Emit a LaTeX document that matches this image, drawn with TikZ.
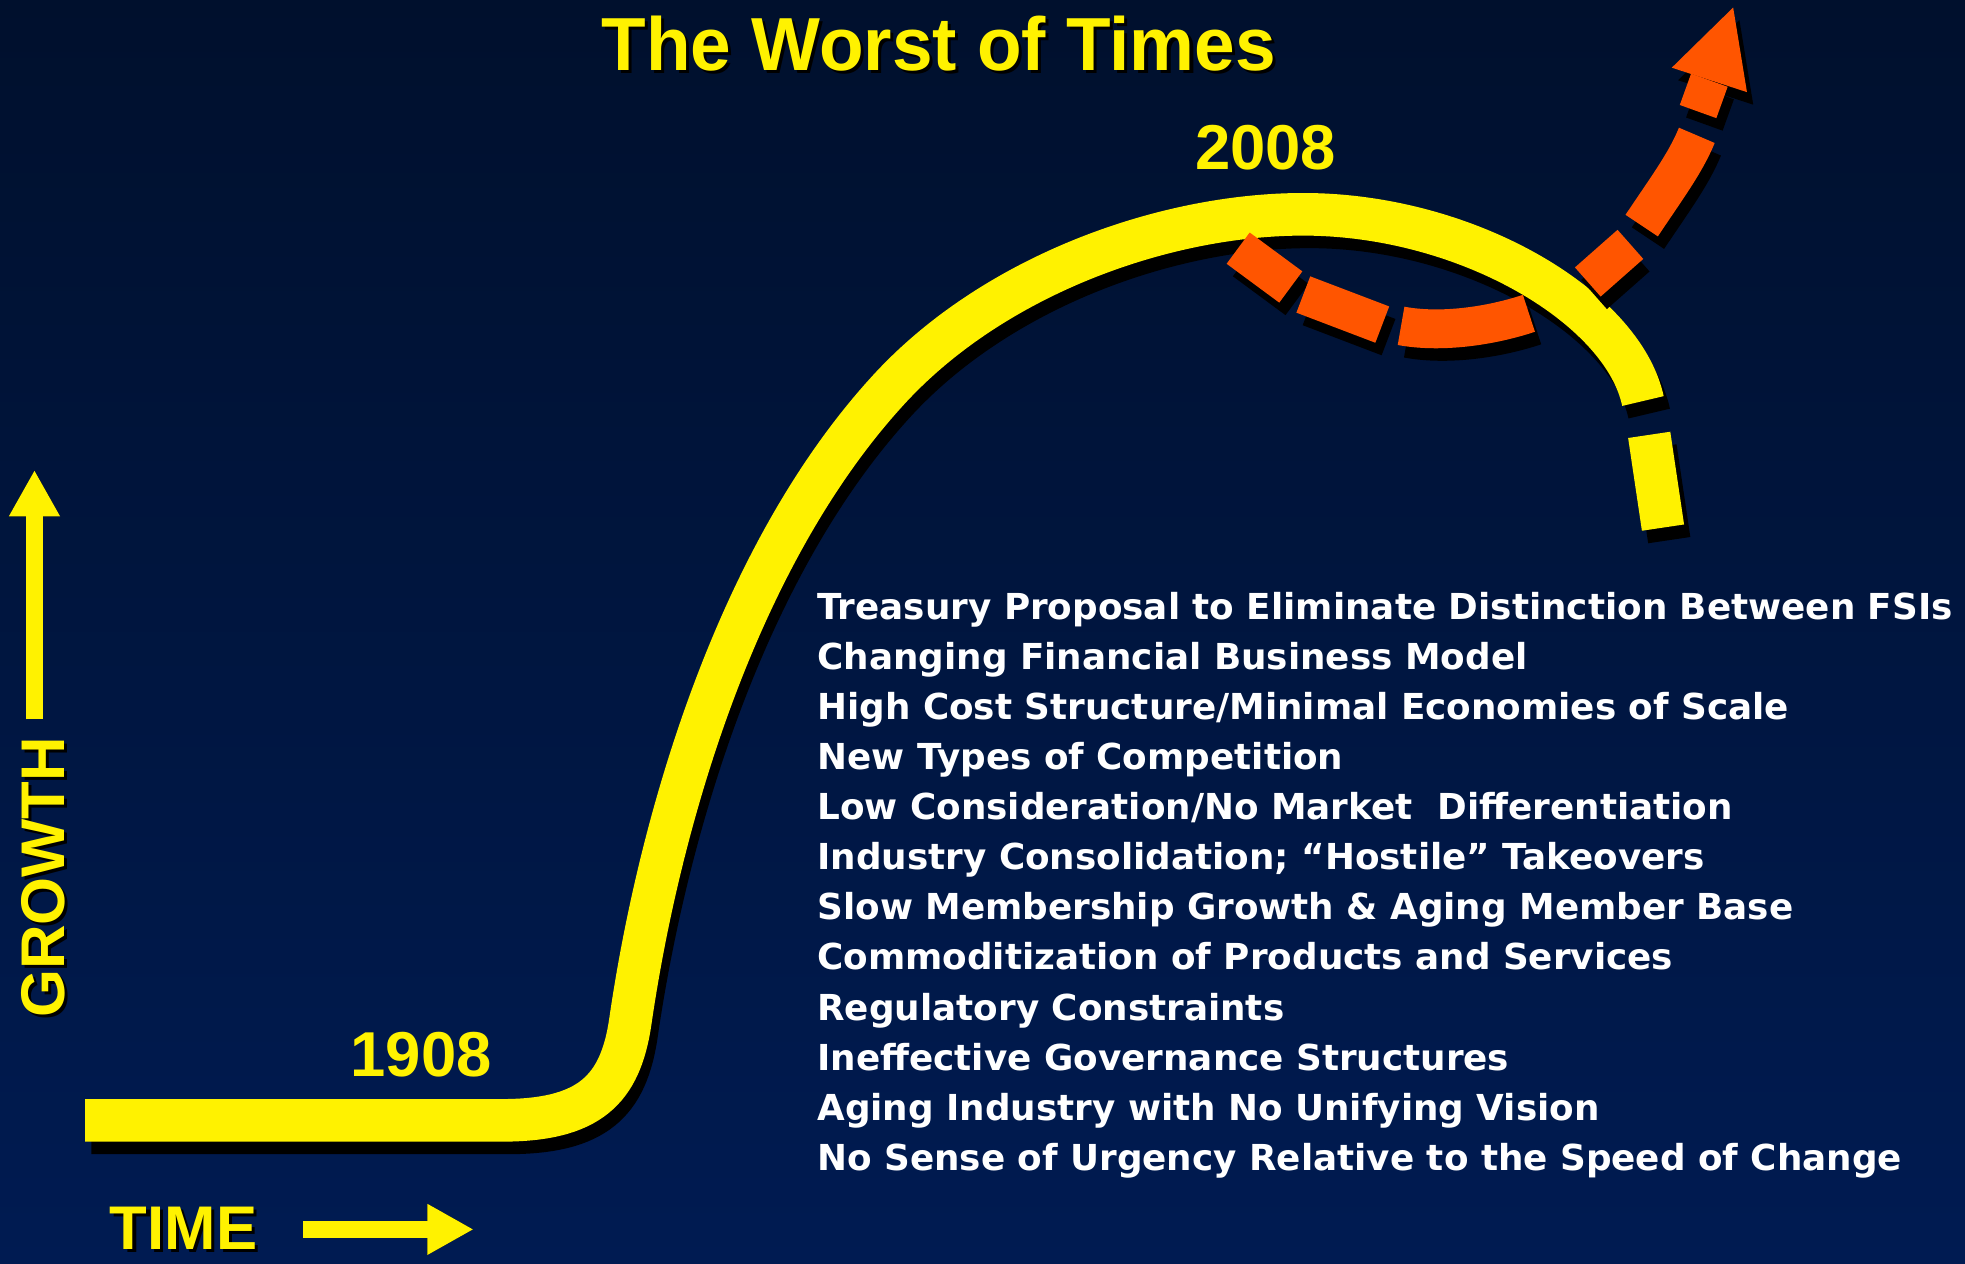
\documentclass[tikz,border=0pt]{standalone}
\usepackage{fontspec}
\setmainfont{Liberation Sans}
\newfontfamily\headfont[FakeStretch=0.97]{Liberation Sans}
\newfontfamily\listfont{DejaVu Sans}
\usetikzlibrary{arrows.meta}
\definecolor{navytop}{RGB}{0,16,45}
\definecolor{navybottom}{RGB}{0,27,82}
\definecolor{flame}{RGB}{255,85,0}

\begin{document}
\begin{tikzpicture}[x=0.25mm, y=-0.25mm,
  curve/.style={line width=8.5mm},
  turn/.style={line width=7.75mm},
  axisarrow/.style={line width=3.5mm, -{Triangle[length=9.25mm, width=9.5mm]}},
  headtext/.style={anchor=base, inner sep=0pt, font=\headfont\bfseries\fontsize{42.7}{50}\selectfont},
  yeartext/.style={anchor=base, inner sep=0pt, text=yellow, font=\bfseries\fontsize{36}{40}\selectfont},
  axistext/.style={anchor=base, inner sep=0pt, font=\bfseries\fontsize{35}{40}\selectfont},
  causetext/.style={anchor=base west, inner sep=0pt, text=white, font=\listfont\bfseries\fontsize{20.3}{24}\selectfont}]

\shade[top color=navytop, bottom color=navybottom] (0,0) rectangle (1568,1008);
\useasboundingbox (0,0) rectangle (1568,1008);

% growth curve, with its drop
\foreach \ink/\dx/\dy in {black/5/10, yellow/0/0} {
  \draw[curve, \ink, shift={(\dx,\dy)}] (68,894) -- (400,894) .. controls (470,894) and (495,870) .. (503,815)
    .. controls (527,650) and (590,440) .. (710,310) .. controls (794,219) and (930,171) .. (1040,171)
    .. controls (1170,171) and (1295,245) .. (1311,320);
  \draw[curve, \ink, shift={(\dx,\dy)}] (1316,347) -- (1327,421);
}

% the turn upwards
\foreach \ink/\dx/\dy in {black/5/10, flame/0/0} {
  \begin{scope}[shift={(\dx,\dy)}, \ink]
    \draw[turn] (988,198) -- (1030,229);
    \draw[turn] (1040,235) -- (1103,259);
    \draw[turn] (1118,260) .. controls (1150,266) and (1190,260) .. (1220,250);
    \draw[turn] (1267,225) -- (1301,195);
    \draw[turn] (1310,180) .. controls (1330,150) and (1345,130) .. (1354,108);
    \draw[turn] (1355,89) -- (1364,64);
    \fill (1334,54) -- (1383,6) -- (1394,73.5) -- cycle;
  \end{scope}
}

\node[headtext, black] (titleshadow) at (751.5,58.5) {The Worst of Times};
\node[headtext, yellow] (title) at (749,56) {The Worst of Times};

\node[yeartext] (y2008) at (1010,135.5) {2008};
\node[yeartext] (y1908) at (336,859) {1908};

% axes
\coordinate (growthfoot) at (27.5,574);
\coordinate (growthtip) at (27.5,375);
\coordinate (timefoot) at (242,981);
\coordinate (timetip) at (378,981);
\draw[axisarrow, black, shift={(3,3)}] (growthfoot) -- (growthtip);
\draw[axisarrow, yellow] (growthfoot) -- (growthtip);
\draw[axisarrow, black, shift={(3,3)}] (timefoot) -- (timetip);
\draw[axisarrow, yellow] (timefoot) -- (timetip);

\node[axistext, black, rotate=90] (growthshadow) at (54,702.5) {GROWTH};
\node[axistext, yellow, rotate=90] (growth) at (51.6,700) {GROWTH};
\node[axistext, black] (timeshadow) at (149,999.5) {TIME};
\node[axistext, yellow] (time) at (146.5,997) {TIME};

\foreach \cause [count=\i from 0] in {Treasury Proposal to Eliminate Distinction Between FSIs,
  Changing Financial Business Model, High Cost Structure/Minimal Economies of Scale,
  New Types of Competition, Low Consideration/No Market\ \ Differentiation,
  Industry Consolidation; “Hostile” Takeovers, Slow Membership Growth \& Aging Member Base,
  Commoditization of Products and Services, Regulatory Constraints,
  Ineffective Governance Structures, Aging Industry with No Unifying Vision,
  No Sense of Urgency Relative to the Speed of Change}
  \node[causetext] (cause\i) at (652,{494+40*\i}) {\cause};

\end{tikzpicture}
\end{document}
